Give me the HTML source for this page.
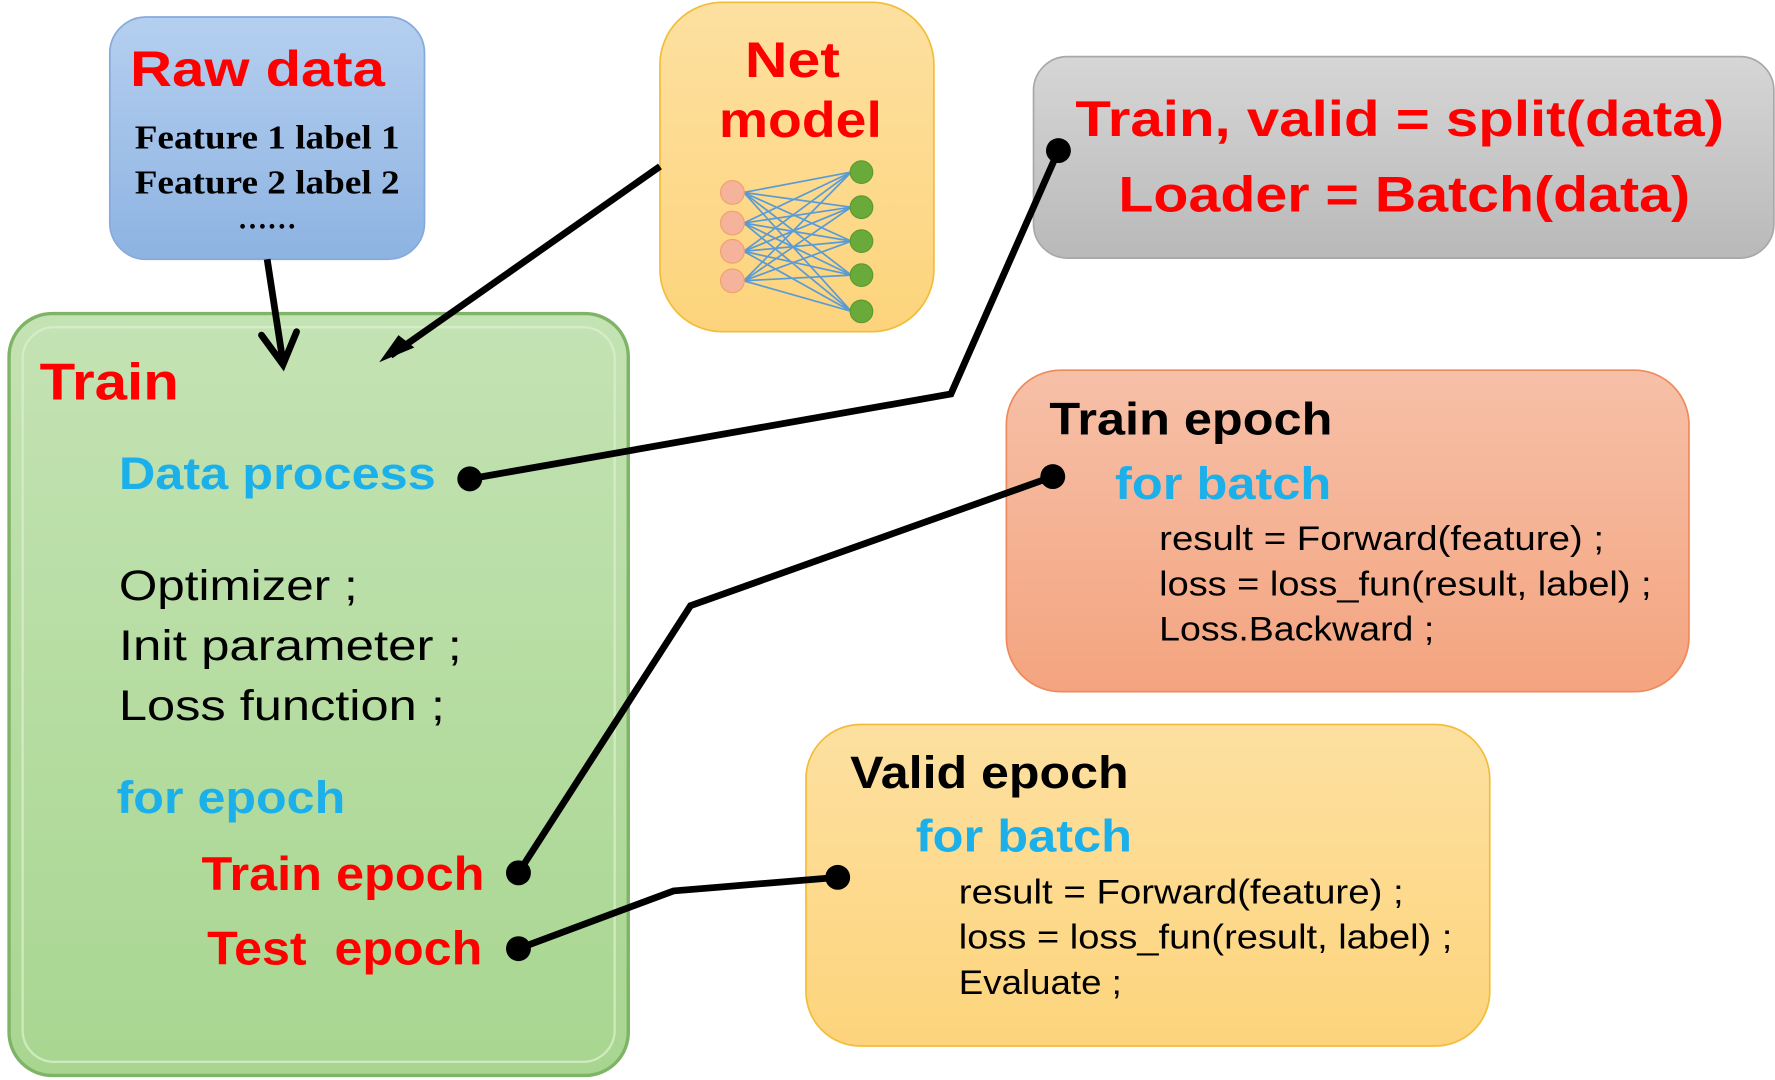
<!DOCTYPE html>
<html><head><meta charset="utf-8"><style>
html,body{margin:0;padding:0;background:#fff;}
svg{display:block;}
text{font-family:"Liberation Sans",sans-serif;}
.b{font-weight:bold;}
</style></head><body>
<svg width="1775" height="1080" viewBox="0 0 1568 954" xmlns="http://www.w3.org/2000/svg">
<defs>
<linearGradient id="gb" x1="0" y1="0" x2="0" y2="1"><stop offset="0" stop-color="#b5cfef"/><stop offset="1" stop-color="#8db3e2"/></linearGradient>
<linearGradient id="gy" x1="0" y1="0" x2="0" y2="1"><stop offset="0" stop-color="#fde0a0"/><stop offset="1" stop-color="#fdd47c"/></linearGradient>
<linearGradient id="gg" x1="0" y1="0" x2="0" y2="1"><stop offset="0" stop-color="#d6d6d6"/><stop offset="1" stop-color="#b9b9b9"/></linearGradient>
<linearGradient id="gn" x1="0" y1="0" x2="0" y2="1"><stop offset="0" stop-color="#c4e3b4"/><stop offset="1" stop-color="#a8d690"/></linearGradient>
<linearGradient id="go" x1="0" y1="0" x2="0" y2="1"><stop offset="0" stop-color="#f6c0a8"/><stop offset="1" stop-color="#f4a47f"/></linearGradient>
</defs>

<rect x="97" y="15" width="278" height="214" rx="32" fill="url(#gb)" stroke="#86aadc" stroke-width="1.5"/>
<text x="115" y="76" class="b" font-size="44" fill="#ff0000" textLength="225" lengthAdjust="spacingAndGlyphs">Raw data</text>
<text x="119" y="131" font-weight="bold" font-size="30" style="font-family:'Liberation Serif',serif" textLength="234" lengthAdjust="spacingAndGlyphs">Feature 1 label 1</text>
<text x="119" y="171" font-weight="bold" font-size="30" style="font-family:'Liberation Serif',serif" textLength="234" lengthAdjust="spacingAndGlyphs">Feature 2 label 2</text>
<text x="236" y="202" text-anchor="middle" font-weight="bold" font-size="26" style="font-family:'Liberation Serif',serif">……</text>

<rect x="583" y="2" width="242" height="291" rx="55" fill="url(#gy)" stroke="#f2bd3a" stroke-width="1.5"/>
<text x="658" y="68" class="b" font-size="44" fill="#ff0000" textLength="84" lengthAdjust="spacingAndGlyphs">Net</text>
<text x="635" y="121" class="b" font-size="44" fill="#ff0000" textLength="144" lengthAdjust="spacingAndGlyphs">model</text>
<g stroke="#5b9bd5" stroke-width="1.5">
<line x1="657" y1="170" x2="752" y2="152"/><line x1="657" y1="170" x2="752" y2="183"/><line x1="657" y1="170" x2="752" y2="213"/><line x1="657" y1="170" x2="752" y2="243"/><line x1="657" y1="170" x2="752" y2="275"/>
<line x1="657" y1="197" x2="752" y2="152"/><line x1="657" y1="197" x2="752" y2="183"/><line x1="657" y1="197" x2="752" y2="213"/><line x1="657" y1="197" x2="752" y2="243"/><line x1="657" y1="197" x2="752" y2="275"/>
<line x1="657" y1="222" x2="752" y2="152"/><line x1="657" y1="222" x2="752" y2="183"/><line x1="657" y1="222" x2="752" y2="213"/><line x1="657" y1="222" x2="752" y2="243"/><line x1="657" y1="222" x2="752" y2="275"/>
<line x1="657" y1="248" x2="752" y2="152"/><line x1="657" y1="248" x2="752" y2="183"/><line x1="657" y1="248" x2="752" y2="213"/><line x1="657" y1="248" x2="752" y2="243"/><line x1="657" y1="248" x2="752" y2="275"/>
</g>
<g fill="#f4b39a" stroke="#f0a070" stroke-width="1">
<circle cx="647" cy="170" r="10.5"/><circle cx="647" cy="197" r="10.5"/><circle cx="647" cy="222" r="10.5"/><circle cx="647" cy="248" r="10.5"/>
</g>
<g fill="#6aaa3a" stroke="#5a9a2a" stroke-width="1">
<circle cx="761" cy="152" r="10"/><circle cx="761" cy="183" r="10"/><circle cx="761" cy="213" r="10"/><circle cx="761" cy="243" r="10"/><circle cx="761" cy="275" r="10"/>
</g>

<rect x="913" y="50" width="654" height="178" rx="30" fill="url(#gg)" stroke="#a8a8a8" stroke-width="1.5"/>
<text x="950" y="120" class="b" font-size="44" fill="#ff0000" textLength="573" lengthAdjust="spacingAndGlyphs">Train, valid = split(data)</text>
<text x="988" y="187" class="b" font-size="44" fill="#ff0000" textLength="505" lengthAdjust="spacingAndGlyphs">Loader = Batch(data)</text>

<rect x="8" y="277" width="547" height="673" rx="38" fill="url(#gn)" stroke="#7fb466" stroke-width="3"/>
<rect x="20" y="289" width="523" height="649" rx="28" fill="none" stroke="#d8efcc" stroke-width="2" opacity="0.8"/>
<text x="35" y="353" class="b" font-size="46" fill="#ff0000" textLength="123" lengthAdjust="spacingAndGlyphs">Train</text>
<text x="105" y="432" class="b" font-size="40" fill="#1cb0ea" textLength="280" lengthAdjust="spacingAndGlyphs">Data process</text>
<text x="105" y="530" font-size="38" fill="#000" textLength="211" lengthAdjust="spacingAndGlyphs">Optimizer ;</text>
<text x="105" y="583" font-size="38" fill="#000" textLength="303" lengthAdjust="spacingAndGlyphs">Init parameter ;</text>
<text x="105" y="636" font-size="38" fill="#000" textLength="288" lengthAdjust="spacingAndGlyphs">Loss function ;</text>
<text x="103" y="718" class="b" font-size="40" fill="#1cb0ea" textLength="202" lengthAdjust="spacingAndGlyphs">for epoch</text>
<text x="178" y="786" class="b" font-size="42" fill="#ff0000" textLength="250" lengthAdjust="spacingAndGlyphs">Train epoch</text>
<text x="183" y="852" class="b" font-size="42" fill="#ff0000" xml:space="preserve" textLength="243" lengthAdjust="spacingAndGlyphs">Test  epoch</text>

<rect x="889" y="327" width="603" height="284" rx="48" fill="url(#go)" stroke="#ee8a5c" stroke-width="1.5"/>
<text x="927" y="384" class="b" font-size="40" fill="#000" textLength="250" lengthAdjust="spacingAndGlyphs">Train epoch</text>
<text x="985" y="441" class="b" font-size="40" fill="#1cb0ea" textLength="191" lengthAdjust="spacingAndGlyphs">for batch</text>
<text x="1024" y="486" font-size="30" fill="#000" textLength="393" lengthAdjust="spacingAndGlyphs">result = Forward(feature) ;</text>
<text x="1024" y="526" font-size="30" fill="#000" textLength="435" lengthAdjust="spacingAndGlyphs">loss = loss_fun(result, label) ;</text>
<text x="1024" y="566" font-size="30" fill="#000" textLength="243" lengthAdjust="spacingAndGlyphs">Loss.Backward ;</text>

<rect x="712" y="640" width="604" height="284" rx="48" fill="url(#gy)" stroke="#f2bd3a" stroke-width="1.5"/>
<text x="751" y="696" class="b" font-size="40" fill="#000" textLength="246" lengthAdjust="spacingAndGlyphs">Valid epoch</text>
<text x="809" y="752" class="b" font-size="40" fill="#1cb0ea" textLength="191" lengthAdjust="spacingAndGlyphs">for batch</text>
<text x="847" y="798" font-size="30" fill="#000" textLength="393" lengthAdjust="spacingAndGlyphs">result = Forward(feature) ;</text>
<text x="847" y="838" font-size="30" fill="#000" textLength="436" lengthAdjust="spacingAndGlyphs">loss = loss_fun(result, label) ;</text>
<text x="847" y="878" font-size="30" fill="#000" textLength="144" lengthAdjust="spacingAndGlyphs">Evaluate ;</text>

<g stroke="#000" stroke-width="6" fill="none" stroke-linejoin="miter">
<line x1="236" y1="229" x2="250" y2="320"/>
<polyline points="231,296 250,322 262,293" stroke-linecap="round"/>
<line x1="583" y1="147" x2="345" y2="314"/>
<polyline points="415,423 840,348 935,133"/>
<polyline points="458,771 610,535 930,421"/>
<polyline points="458,838 595,787 740,775"/>
</g>
<polygon points="335,320 352,296 366,307" fill="#000"/>
<g fill="#000">
<circle cx="415" cy="423" r="11"/><circle cx="935" cy="133" r="11"/>
<circle cx="458" cy="771" r="11"/><circle cx="930" cy="421" r="11"/>
<circle cx="458" cy="838" r="11"/><circle cx="740" cy="775" r="11"/>
</g>
</svg>
</body></html>
